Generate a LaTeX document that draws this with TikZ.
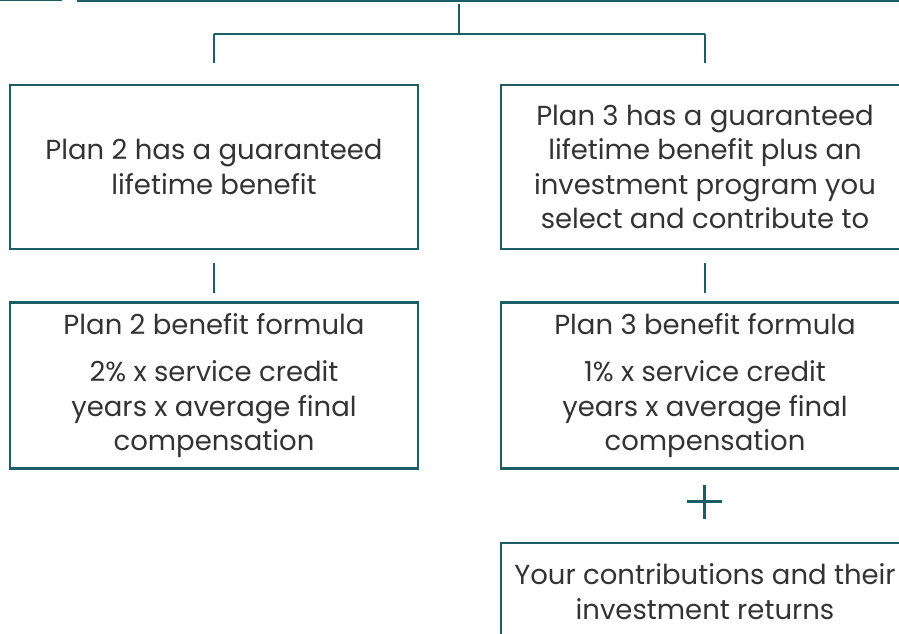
\documentclass[tikz,border=0pt]{standalone}
\usepackage{fontspec}
\setmainfont{Poppins}
\definecolor{teal}{HTML}{1B5E66}
\definecolor{ink}{HTML}{333333}
\begin{document}
\begin{tikzpicture}[x=1pt,y=-1pt,
  box/.style={draw=teal,line width=2.4pt,rectangle,minimum width=408pt,inner sep=0pt,
    text=ink,align=center,font=\fontsize{27.5}{34.5}\selectfont},
  link/.style={draw=teal,line width=2.8pt},
  plusbar/.style={draw=teal,line width=2.2pt}]
\useasboundingbox (0,0) rectangle (899,633);
\begin{scope}
\clip (0,0) rectangle (899,633);
% boxes from the row above, cut off at the top
\node[box,minimum width=900pt,minimum height=60pt,anchor=south west] (top) at (77,1.5) {};
\node[box,line width=3.4pt,minimum width=120pt,minimum height=60pt,anchor=south east] (topleft) at (62,1) {};
% first row
\node[box,minimum height=164pt] (p2) at (214,167) {Plan 2 has a guaranteed\\lifetime benefit};
\node[box,minimum height=164pt] (p3) at (705,167) {Plan 3 has a guaranteed\\lifetime benefit plus an\\investment program you\\select and contribute to};
% second row
\node[box,minimum height=166pt] (f2) at (214,385.5) {Plan 2 benefit formula\\[13pt]2\% x service credit\\years x average final\\compensation};
\node[box,minimum height=166pt] (f3) at (705,385.5) {Plan 3 benefit formula\\[13pt]1\% x service credit\\years x average final\\compensation};
% third row
\node[box,minimum height=97pt] (own) at (705,591.5) {Your contributions and their\\investment returns};
% connectors
\coordinate (junction) at (459,34);
\coordinate (l) at (214,34);
\coordinate (r) at (705,34);
\draw[link] (top.south -| junction) ++(0,2.5) -- (junction);
\draw[link] (l) -- (r);
\draw[link,shorten >=21pt] (l) -- (p2.north);
\draw[link,shorten >=21pt] (r) -- (p3.north);
\draw[link,shorten <=13pt,shorten >=8pt] (p2.south) -- (f2.north);
\draw[link,shorten <=13pt,shorten >=8pt] (p3.south) -- (f3.north);
% plus sign between the formula and the contributions
\coordinate (plus) at (704.5,501.5);
\draw[plusbar] ([xshift=-17.5pt]plus) -- ([xshift=17.5pt]plus);
\draw[plusbar] ([yshift=-17pt]plus) -- ([yshift=17pt]plus);
\end{scope}
\end{tikzpicture}
\end{document}
